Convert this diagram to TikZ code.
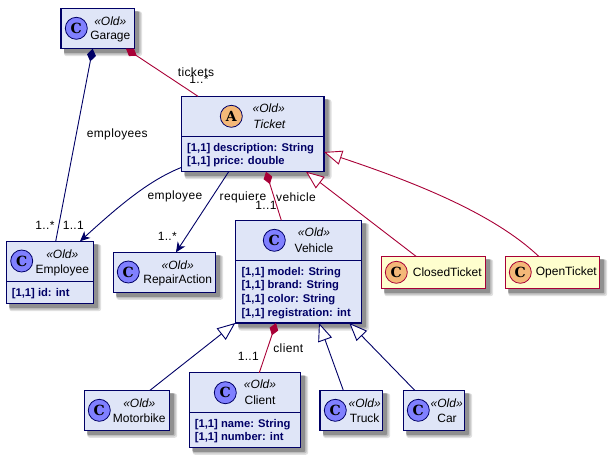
\documentclass[tikz,border=0pt]{standalone}
\usepackage{fontspec}
\setmainfont{Liberation Sans}
\newfontfamily\spotfont{DejaVu Serif}
\newfontfamily\lblfont[LetterSpace=3]{Liberation Sans}
\usetikzlibrary{arrows.meta,calc}
\definecolor{navy}{HTML}{000066}
\definecolor{crim}{HTML}{A80036}
\definecolor{boxblue}{HTML}{DFE5F7}
\definecolor{boxyellow}{HTML}{FEFECE}
\definecolor{spotblue}{HTML}{8080FF}
\definecolor{spotorange}{HTML}{F4B878}
\definecolor{shadeA}{HTML}{E0E0E0}
\definecolor{shadeB}{HTML}{BEBEBE}
\definecolor{shadeC}{HTML}{909090}
\tikzset{
  umlbox/.style={rectangle,draw=navy,fill=boxblue,line width=1.4pt,inner sep=0pt,outer sep=0pt,anchor=north west},
  umlyellow/.style={umlbox,draw=crim,fill=boxyellow},
  spotc/.style={circle,draw=navy,line width=.8pt,fill=spotblue,minimum size=22pt,inner sep=0pt,font=\spotfont\bfseries\fontsize{14}{14}\selectfont},
  stereo/.style={inner sep=0pt,font=\itshape\fontsize{12}{12}\selectfont,text=black},
  nametext/.style={inner sep=0pt,font=\fontsize{12}{12}\selectfont,text=black},
  fieldtext/.style={inner sep=0pt,anchor=west,font=\bfseries\fontsize{11.2}{11.2}\selectfont,text=navy},
  lbl/.style={inner sep=0pt,font=\lblfont\fontsize{12}{12}\selectfont,text=black},
  navyline/.style={draw=navy,line width=.9pt},
  crimline/.style={draw=crim,line width=.9pt},
  compnavy/.style={navyline,{Diamond[length=13pt,width=9pt,fill=navy]}-},
  compcrim/.style={crimline,{Diamond[length=13pt,width=9pt,fill=crim]}-},
  assoc/.style={navyline,-{Stealth[length=10pt,width=9pt,inset=3pt]}},
  gennavy/.style={navyline,{Triangle[length=18pt,width=14.5pt,fill=white]}-},
  gencrim/.style={crimline,{Triangle[length=18pt,width=14.5pt,fill=white]}-},
  divnavy/.style={draw=navy,line width=1pt}
}
\newcommand{\umlb}[6]{%
  \fill[shadeA,rounded corners=2.5pt] (#2+3,#3+3) rectangle (#4+7.5,#5+7.5);
  \fill[shadeB,rounded corners=2pt] (#2+3,#3+3) rectangle (#4+6,#5+6);
  \fill[shadeC,rounded corners=1pt] (#2+3,#3+3) rectangle (#4+4.5,#5+4.5);
  \node[#6,minimum width={(#4-#2)*1pt},minimum height={(#5-#3)*1pt}] (#1) at (#2,#3) {};}
\newcommand{\spotn}[5]{\node[spotc,fill=#5] (#1) at (#2,#3) {#4};}
\newcommand{\divl}[2]{\draw[divnavy] (#1.west |- 0,#2) -- (#1.east |- 0,#2);}
\begin{document}
\begin{tikzpicture}[x=1pt,y=-1pt]
\useasboundingbox (0,0) rectangle (609,457);
% boxes
\umlb{garage}{61}{8.3}{134.5}{48.7}{umlbox}
\umlb{ticket}{181.7}{96.3}{324}{171.7}{umlbox}
\umlb{employee}{6.3}{241.3}{93.7}{303.7}{umlbox}
\umlb{repair}{113.3}{252.3}{215.7}{292.3}{umlbox}
\umlb{vehicle}{235.3}{220.3}{361.7}{323}{umlbox}
\umlb{motorbike}{84.3}{390.3}{169.7}{430.3}{umlbox}
\umlb{client}{189.7}{372.7}{300.7}{447.3}{umlbox}
\umlb{truck}{320}{390.3}{382.7}{430.5}{umlbox}
\umlb{car}{403.3}{390.3}{464.7}{430.5}{umlbox}
\umlb{closed}{381.3}{256.3}{485.7}{288.7}{umlyellow}
\umlb{open}{505.3}{256.3}{599.7}{288.7}{umlyellow}
% dividers
\divl{ticket}{136.7}
\divl{employee}{281.3}
\divl{vehicle}{260.7}
\divl{client}{412}
% spots
\spotn{garageC}{76.3}{28.3}{C}{spotblue}
\spotn{ticketA}{231.3}{116.3}{A}{spotorange}
\spotn{employeeC}{21.7}{261}{C}{spotblue}
\spotn{repairC}{128.3}{272}{C}{spotblue}
\spotn{vehicleC}{274.3}{240.3}{C}{spotblue}
\spotn{motorbikeC}{99.3}{410.3}{C}{spotblue}
\spotn{clientC}{225.3}{392.7}{C}{spotblue}
\spotn{truckC}{335.3}{410.3}{C}{spotblue}
\spotn{carC}{418.3}{410.3}{C}{spotblue}
\node[spotc,fill=spotorange,draw=crim] (closedC) at (396.3,272.3) {C};
\node[spotc,fill=spotorange,draw=crim] (openC) at (520.3,272.3) {C};
% stereotypes and names
\node[stereo] (garageS) at (110.3,21) {«Old»};
\node[nametext] (garageN) at (110.3,36.3) {Garage};
\node[stereo] (ticketS) at (268.7,108.7) {«Old»};
\node[stereo] (ticketN) at (269.3,124.3) {Ticket};
\node[stereo] (employeeS) at (62.3,254) {«Old»};
\node[nametext] (employeeN) at (62.3,270) {Employee};
\node[stereo] (repairS) at (177.7,265) {«Old»};
\node[nametext] (repairN) at (177.7,280.7) {RepairAction};
\node[stereo] (vehicleS) at (314,232.7) {«Old»};
\node[nametext] (vehicleN) at (314,248.7) {Vehicle};
\node[stereo] (motorbikeS) at (139.3,403) {«Old»};
\node[nametext] (motorbikeN) at (139.3,418.7) {Motorbike};
\node[stereo] (clientS) at (260,384.7) {«Old»};
\node[nametext] (clientN) at (260,400.7) {Client};
\node[stereo] (truckS) at (364.7,403) {«Old»};
\node[nametext] (truckN) at (364.7,418.7) {Truck};
\node[stereo] (carS) at (446.7,403) {«Old»};
\node[nametext] (carN) at (447,418.7) {Car};
\node[nametext] (closedN) at (447.3,272.7) {ClosedTicket};
\node[nametext] (openN) at (566.3,272.7) {OpenTicket};
% fields
\node[fieldtext] (tf1) at (187,148.3) {[1,1] description: String};
\node[fieldtext] (tf2) at (187,161.3) {[1,1] price: double};
\node[fieldtext] (ef1) at (11.7,293.3) {[1,1] id: int};
\node[fieldtext] (vf1) at (241.3,272.3) {[1,1] model: String};
\node[fieldtext] (vf2) at (241.3,285.3) {[1,1] brand: String};
\node[fieldtext] (vf3) at (241.3,299.3) {[1,1] color: String};
\node[fieldtext] (vf4) at (241.3,313.3) {[1,1] registration: int};
\node[fieldtext] (cf1) at (194.7,424.3) {[1,1] name: String};
\node[fieldtext] (cf2) at (194.7,437.3) {[1,1] number: int};
% connectors
\draw[compnavy] ([xshift=31.7pt]garage.south west) -- ([xshift=49.4pt]employee.north west);
\draw[compcrim] ([xshift=65pt]garage.south west) -- ([xshift=16.3pt]ticket.north west);
\draw[assoc] ([yshift=4.4pt]ticket.south west) .. controls (150,180) and (122,203) .. ([xshift=73.7pt]employee.north west);
\draw[assoc] ([xshift=47pt]ticket.south west) -- ([xshift=62.7pt]repair.north west);
\draw[compcrim] ([xshift=84.3pt]ticket.south west) -- ([xshift=46pt]vehicle.north west);
\draw[gencrim] ([xshift=-18pt]ticket.south east) -- ([xshift=34.7pt]closed.north west);
\draw[gencrim] ([yshift=19.7pt]ticket.south east) .. controls (420,184) and (495,215) .. ([xshift=33.4pt]open.north west);
\draw[gennavy] (vehicle.south west) -- ([xshift=65.7pt]motorbike.north west);
\draw[compcrim] ([xshift=40.7pt]vehicle.south west) -- ([xshift=69.6pt]client.north west);
\draw[gennavy] ([xshift=83.7pt]vehicle.south west) -- ([xshift=23.3pt]truck.north west);
\draw[gennavy] ([xshift=114pt]vehicle.south west) -- ([xshift=11.4pt]car.north west);
% labels
\node[lbl] (l1) at (196,72.7) {tickets};
\node[lbl] (l2) at (199,79.5) {1..*};
\node[lbl] (l3) at (117.3,134.7) {employees};
\node[lbl] (l4) at (45,225) {1..*};
\node[lbl] (l5) at (73.3,225) {1..1};
\node[lbl] (l6) at (175,196.7) {employee};
\node[lbl] (l7) at (243,197) {requiere};
\node[lbl] (l8) at (296,197) {vehicle};
\node[lbl] (l9) at (266,205) {1..1};
\node[lbl] (l10) at (167.3,236) {1..*};
\node[lbl] (l11) at (288.3,348.3) {client};
\node[lbl] (l12) at (248.3,356) {1..1};
\end{tikzpicture}
\end{document}
